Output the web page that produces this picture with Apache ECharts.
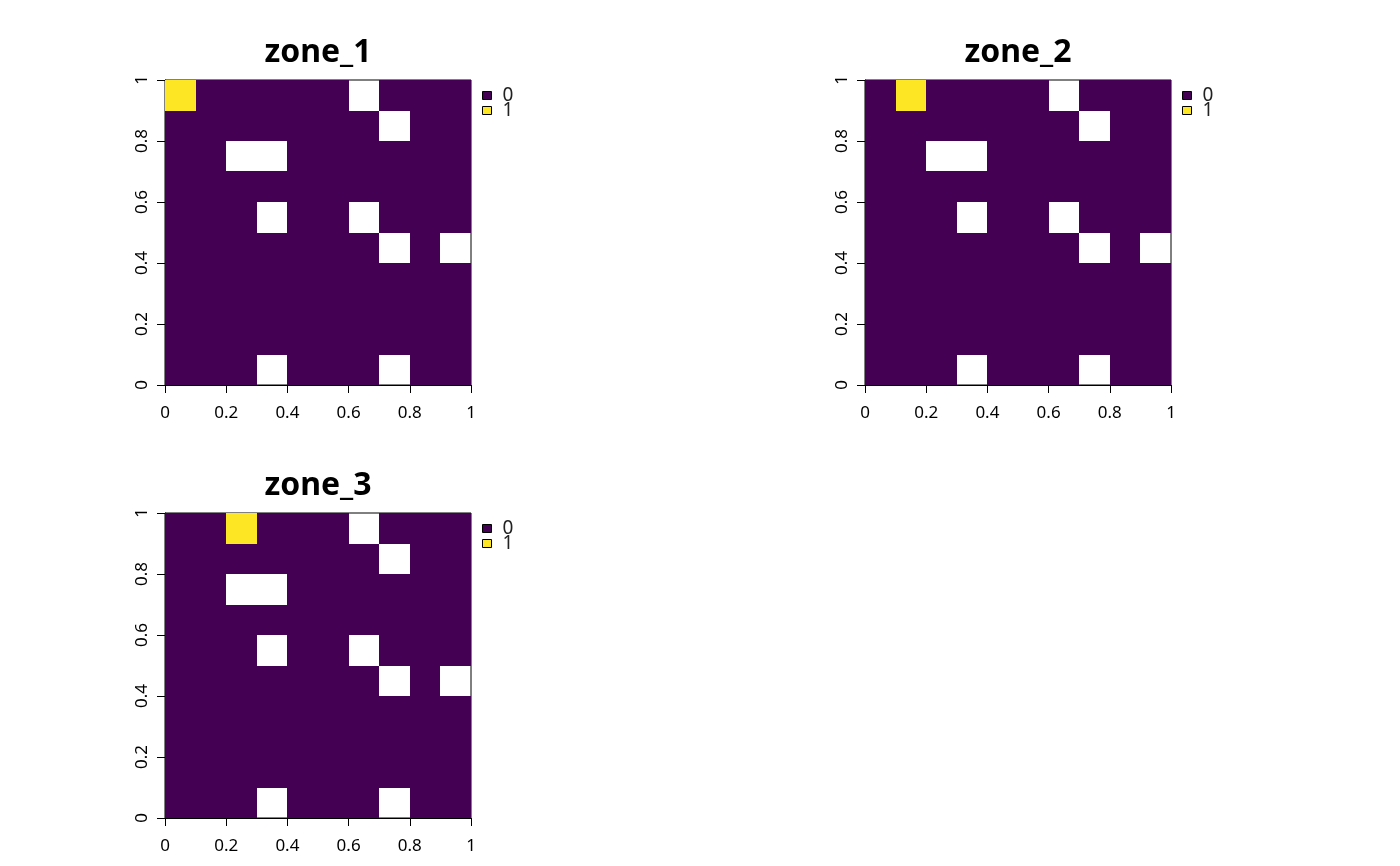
<!DOCTYPE html>
<html>
<head>
<meta charset="utf-8">
<script src="https://cdn.jsdelivr.net/npm/echarts@6/dist/echarts.min.js"></script>
<style>
  html, body { margin: 0; padding: 0; background: #fff; }
  #main { width: 1400px; height: 866px; }
</style>
</head>
<body>
<div id="main"></div>
<script>
// raster values, rows listed from top (y 0.9-1) to bottom (y 0-0.1); null = NA cell
var zone1 = [
    [1, 0, 0, 0, 0, 0, null, 0, 0, 0],
    [0, 0, 0, 0, 0, 0, 0, null, 0, 0],
    [0, 0, null, null, 0, 0, 0, 0, 0, 0],
    [0, 0, 0, 0, 0, 0, 0, 0, 0, 0],
    [0, 0, 0, null, 0, 0, null, 0, 0, 0],
    [0, 0, 0, 0, 0, 0, 0, null, 0, null],
    [0, 0, 0, 0, 0, 0, 0, 0, 0, 0],
    [0, 0, 0, 0, 0, 0, 0, 0, 0, 0],
    [0, 0, 0, 0, 0, 0, 0, 0, 0, 0],
    [0, 0, 0, null, 0, 0, 0, null, 0, 0]
];
var zone2 = [
    [0, 1, 0, 0, 0, 0, null, 0, 0, 0],
    [0, 0, 0, 0, 0, 0, 0, null, 0, 0],
    [0, 0, null, null, 0, 0, 0, 0, 0, 0],
    [0, 0, 0, 0, 0, 0, 0, 0, 0, 0],
    [0, 0, 0, null, 0, 0, null, 0, 0, 0],
    [0, 0, 0, 0, 0, 0, 0, null, 0, null],
    [0, 0, 0, 0, 0, 0, 0, 0, 0, 0],
    [0, 0, 0, 0, 0, 0, 0, 0, 0, 0],
    [0, 0, 0, 0, 0, 0, 0, 0, 0, 0],
    [0, 0, 0, null, 0, 0, 0, null, 0, 0]
];
var zone3 = [
    [0, 0, 1, 0, 0, 0, null, 0, 0, 0],
    [0, 0, 0, 0, 0, 0, 0, null, 0, 0],
    [0, 0, null, null, 0, 0, 0, 0, 0, 0],
    [0, 0, 0, 0, 0, 0, 0, 0, 0, 0],
    [0, 0, 0, null, 0, 0, null, 0, 0, 0],
    [0, 0, 0, 0, 0, 0, 0, null, 0, null],
    [0, 0, 0, 0, 0, 0, 0, 0, 0, 0],
    [0, 0, 0, 0, 0, 0, 0, 0, 0, 0],
    [0, 0, 0, 0, 0, 0, 0, 0, 0, 0],
    [0, 0, 0, null, 0, 0, 0, null, 0, 0]
];
var zoneNames = ['zone_1', 'zone_2', 'zone_3'];
var classes = ['0', '1'];
var classColors = ['#440154', '#FDE725'];
var cellSize = 0.1;

var zones = [zone1, zone2, zone3];
// panel boxes in pixels
var panels = [
    { left: 165, top: 80 },
    { left: 865, top: 80 },
    { left: 165, top: 513 }
];
var panelW = 306, panelH = 305;
var fontName = 'Noto Sans';

// [x, y] lower-left corner of each cell holding the given class
function cellsOf(grid, cls) {
    var out = [];
    for (var r = 0; r < grid.length; r++) {
        for (var c = 0; c < grid[r].length; c++) {
            if (grid[r][c] === cls) {
                out.push([c * cellSize, (grid.length - 1 - r) * cellSize]);
            }
        }
    }
    return out;
}

function renderCell(params, api) {
    var p0 = api.coord([api.value(0), api.value(1) + cellSize]);
    var p1 = api.coord([api.value(0) + cellSize, api.value(1)]);
    var x0 = Math.round(p0[0]), y0 = Math.round(p0[1]);
    var x1 = Math.round(p1[0]), y1 = Math.round(p1[1]);
    return {
        type: 'rect',
        shape: { x: x0, y: y0, width: x1 - x0, height: y1 - y0 },
        style: { fill: api.visual('color') }
    };
}

var grids = [], xAxes = [], yAxes = [], titles = [], legends = [], series = [];
zones.forEach(function (z, i) {
    var p = panels[i];
    grids.push({
        left: p.left, top: p.top, width: panelW, height: panelH,
        show: true, borderColor: '#000', borderWidth: 1
    });
    var axisCommon = {
        gridIndex: i,
        type: 'value',
        min: 0, max: 1, interval: 0.2,
        axisLine: { show: true, onZero: false, lineStyle: { color: '#000', width: 1 } },
        axisTick: { show: true, length: 8, lineStyle: { color: '#000' } },
        splitLine: { show: false }
    };
    xAxes.push(Object.assign({}, axisCommon, {
        axisLabel: { fontFamily: fontName, fontSize: 17, color: '#000', margin: 20 }
    }));
    yAxes.push(Object.assign({}, axisCommon, {
        axisLabel: { fontFamily: fontName, fontSize: 17, color: '#000', margin: 14, rotate: 90 }
    }));
    titles.push({
        text: zoneNames[i],
        left: p.left + panelW / 2,
        top: p.top - 43,
        textAlign: 'center',
        padding: 0,
        textStyle: { fontFamily: fontName, fontSize: 32, fontWeight: 'bold', color: '#000' }
    });
    legends.push({
        left: p.left + panelW + 11,
        top: p.top + 6,
        orient: 'vertical',
        icon: 'rect',
        itemWidth: 9, itemHeight: 8, itemGap: -4,
        padding: 0,
        itemStyle: { borderColor: '#000', borderWidth: 1 },
        textStyle: { fontFamily: fontName, fontSize: 19, color: '#222', padding: [0, 0, 0, 6] },
        data: classes
    });
    classes.forEach(function (cls, k) {
        series.push({
            name: cls,
            type: 'custom',
            xAxisIndex: i,
            yAxisIndex: i,
            renderItem: renderCell,
            itemStyle: { color: classColors[k] },
            data: cellsOf(z, Number(cls)),
            z: 1
        });
    });
});

var myChart = echarts.init(document.getElementById('main'));
myChart.setOption({
    animation: false,
    backgroundColor: '#fff',
    title: titles,
    legend: legends,
    grid: grids,
    xAxis: xAxes,
    yAxis: yAxes,
    series: series
});
</script>
</body>
</html>
